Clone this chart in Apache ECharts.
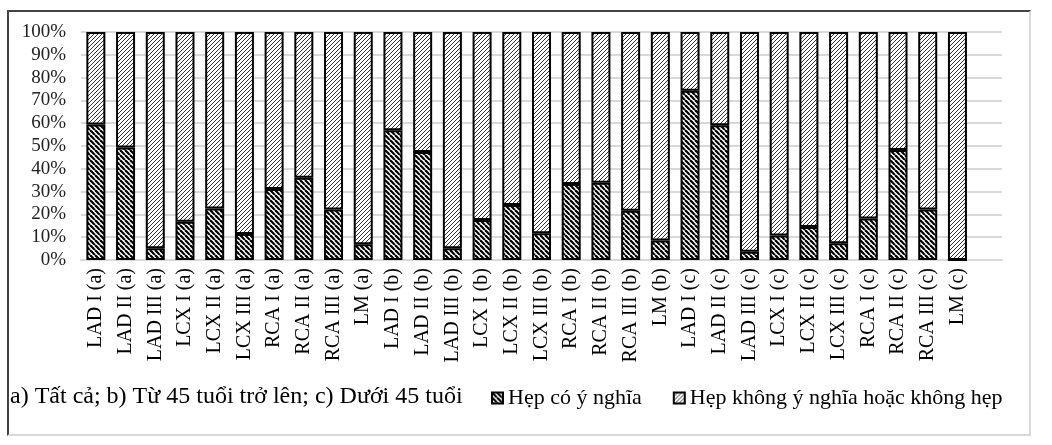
<!DOCTYPE html>
<html>
<head>
<meta charset="utf-8">
<script src="https://cdn.jsdelivr.net/npm/echarts@6/dist/echarts.min.js"></script>
<style>
  body  { margin:0; background:#fff; }
  #wrap { position:relative; width:1052px; height:445px; }
  #main { width:1052px; height:445px; }
  .frame{ position:absolute; left:7px; top:10px; width:1024px; height:426px;
          border-top:2px solid #444; border-left:2px solid #444;
          border-right:2px solid #d9d9d9; border-bottom:2px solid #d9d9d9;
          box-sizing:border-box; pointer-events:none; }
</style>
</head>
<body>
<div id="wrap">
  <div id="main"></div>
  <div class="frame"></div>
</div>
<script>
// categories (last slot is empty in the original)
const categories = [
  'LAD I (a)','LAD II (a)','LAD III (a)','LCX I (a)','LCX II (a)','LCX III (a)','RCA I (a)','RCA II (a)','RCA III (a)','LM (a)',
  'LAD I (b)','LAD II (b)','LAD III (b)','LCX I (b)','LCX II (b)','LCX III (b)','RCA I (b)','RCA II (b)','RCA III (b)','LM (b)',
  'LAD I (c)','LAD II (c)','LAD III (c)','LCX I (c)','LCX II (c)','LCX III (c)','RCA I (c)','RCA II (c)','RCA III (c)','LM (c)',
  ''
]

// % hẹp có ý nghĩa
const hepCoYNghia = [
  59.4, 49.3, 5.1, 16.8, 22.6, 11.4, 31.1, 36.1, 22.2, 6.9,
  56.9, 47.4, 5.1, 17.5, 24.1, 11.7, 33.3, 33.9, 21.6, 8.5,
  74.2, 59.1, 3.6, 10.8, 14.5, 7.3, 18.2, 48.2, 22.2, 0,
  null
]

// % hẹp không ý nghĩa hoặc không hẹp
const hepKhong = [
  40.6, 50.7, 94.9, 83.2, 77.4, 88.6, 68.9, 63.9, 77.8, 93.1,
  43.1, 52.6, 94.9, 82.5, 75.9, 88.3, 66.7, 66.1, 78.4, 91.5,
  25.8, 40.9, 96.4, 89.2, 85.5, 92.7, 81.8, 51.8, 77.8, 100,
  null
]

const seriesNames = ['Hẹp có ý nghĩa', 'Hẹp không ý nghĩa hoặc không hẹp']
const note = 'a) Tất cả; b) Từ 45 tuổi trở lên; c) Dưới 45 tuổi'

// hatch tiles
function hatch(size, width, color, dir) {
  const c = document.createElement('canvas')
  c.width = c.height = size
  const ctx = c.getContext('2d')
  ctx.fillStyle = '#fff'
  ctx.fillRect(0, 0, size, size)
  ctx.strokeStyle = color
  ctx.lineWidth = width
  for (let k = -1; k <= 1; k++) {
    ctx.beginPath()
    if (dir > 0) { ctx.moveTo(k*size, 0); ctx.lineTo(k*size + size, size) }
    else         { ctx.moveTo(k*size, size); ctx.lineTo(k*size + size, 0) }
    ctx.stroke()
  }
  return c
}
const darkFill  = { image: hatch(5, 2.2, '#000', 1),  repeat: 'repeat' }
const lightFill = { image: hatch(4, 1.0, '#333', -1), repeat: 'repeat' }

const font = 'Liberation Serif'

const chart = echarts.init(document.getElementById('main'))
chart.setOption({
  animation: false,
  grid: { left: 81, right: 50, top: 32, bottom: 185 },
  legend: {
    left: 486, top: 382,
    itemWidth: 11, itemHeight: 11, itemGap: 31,
    icon: 'rect',
    textStyle: { fontFamily: font, fontSize: 22, color: '#000' },
    data: seriesNames
  },
  graphic: [{
    type: 'text', left: 10, top: 385,
    style: { text: note, font: '24px "Liberation Serif"', fill: '#000' }
  }],
  xAxis: {
    type: 'category',
    data: categories,
    axisLine: { lineStyle: { color: '#d9d9d9', width: 2 } },
    axisTick: { show: false },
    axisLabel: { interval: 0, rotate: 90, margin: 8, fontFamily: font, fontSize: 20, color: '#000' }
  },
  yAxis: {
    type: 'value', min: 0, max: 100, interval: 10,
    axisLabel: { formatter: '{value}%', margin: 15, fontFamily: font, fontSize: 19, color: '#222' },
    splitLine: { lineStyle: { color: '#d9d9d9', width: 2 } }
  },
  series: [
    {
      name: seriesNames[0], type: 'bar', stack: 'all', barWidth: 19,
      data: hepCoYNghia,
      itemStyle: { color: darkFill, borderColor: '#000', borderWidth: 2 }
    },
    {
      name: seriesNames[1], type: 'bar', stack: 'all', barWidth: 19,
      data: hepKhong,
      itemStyle: { color: lightFill, borderColor: '#000', borderWidth: 2 }
    }
  ]
})
</script>
</body>
</html>
